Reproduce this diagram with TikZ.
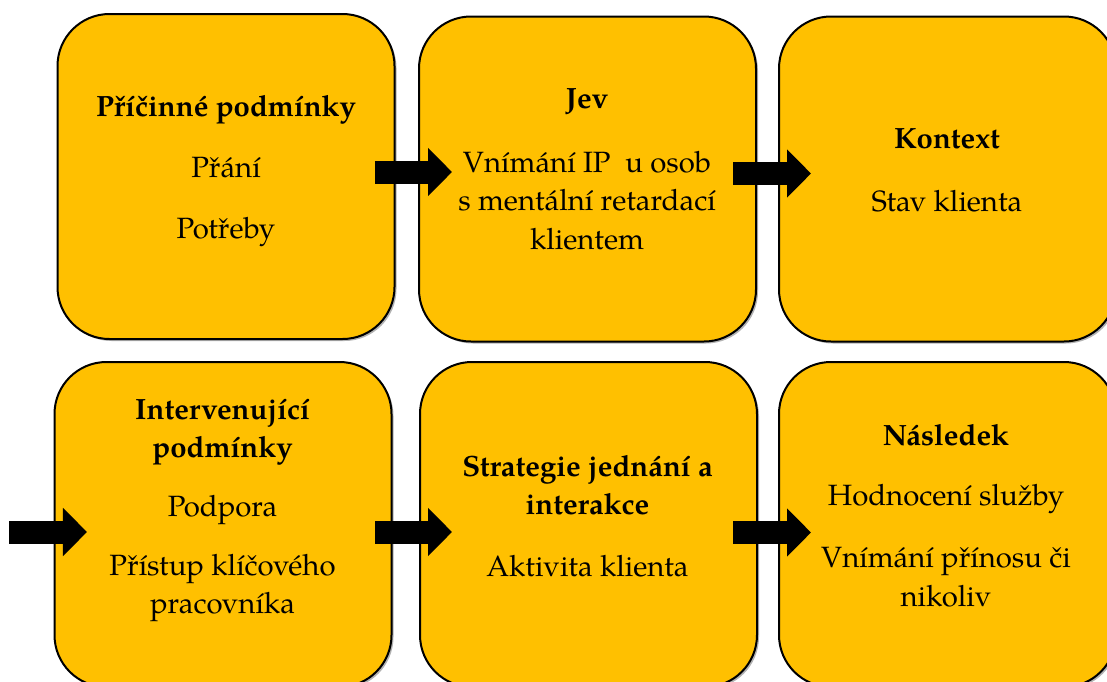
\documentclass[tikz,border=0pt]{standalone}
\usepackage{fontspec}
\setmainfont{TeX Gyre Pagella}
\usetikzlibrary{arrows.meta,shadows}
\definecolor{boxgold}{HTML}{FFC000}
\tikzset{
  box/.style={draw=black, line width=1.5pt, fill=boxgold, rounded corners=39pt,
    minimum width=252.75pt, minimum height=243.75pt, inner sep=0pt,
    drop shadow={shadow xshift=1.5pt, shadow yshift=-1.5pt, fill=black, opacity=0.3}},
  txt/.style={anchor=base, inner sep=0pt, font=\fontsize{22}{26}\selectfont},
  ttl/.style={txt, font=\fontsize{22}{26}\selectfont\bfseries},
  blockarrow/.style={line width=17.25pt, draw=black,
    -{Triangle[width=35.25pt,length=18pt]}}
}
\begin{document}
\begin{tikzpicture}[x=0.75pt,y=-0.75pt]
\useasboundingbox (0,0) rectangle (1107,682);
\clip (0,0) rectangle (1107,682);
% boxes
\node[box] (b1) at (226,176.5) {};
\node[box] (b2) at (587.5,179) {};
\node[box] (b3) at (947.5,179) {};
\node[box] (b4) at (223,524.5) {};
\node[box] (b5) at (588.5,524.5) {};
\node[box] (b6) at (947.5,524.5) {};
% arrows
\coordinate (a0) at (9,532);
\draw[blockarrow] ([xshift=-15.4pt,yshift=3.375pt]b1.east) -- ([xshift=25.5pt,yshift=5.25pt]b2.west);
\draw[blockarrow] ([xshift=-18pt,yshift=4.125pt]b2.east) -- ([xshift=24.75pt,yshift=4.125pt]b3.west);
\draw[blockarrow] (a0) -- ([xshift=25.1pt,yshift=-5.625pt]b4.west);
\draw[blockarrow] ([xshift=-13.1pt,yshift=-5.625pt]b4.east) -- ([xshift=24.75pt,yshift=-5.625pt]b5.west);
\draw[blockarrow] ([xshift=-18.75pt,yshift=-6pt]b5.east) -- ([xshift=24.75pt,yshift=-6pt]b6.west);
% texts box 1
\node[ttl] (t1a) at (226,116) {Příčinné podmínky};
\node[txt] (t1b) at (226,177) {Přání};
\node[txt] (t1c) at (226,238) {Potřeby};
% box 2
\node[ttl] (t2a) at (587,108) {Jev};
\node[txt] (t2b) at (587,172) {Vnímání IP\ \ u osob};
\node[txt] (t2c) at (587,210) {s mentální retardací};
\node[txt] (t2d) at (587,249) {klientem};
% box 3
\node[ttl] (t3a) at (947,148) {Kontext};
\node[txt] (t3b) at (947,211) {Stav klienta};
% box 4
\node[ttl] (t4a) at (222.5,419) {Intervenující};
\node[ttl] (t4b) at (222.5,457) {podmínky};
\node[txt] (t4c) at (222.5,516) {Podpora};
\node[txt] (t4d) at (222.5,575) {Přístup klíčového};
\node[txt] (t4e) at (222.5,613) {pracovníka};
% box 5
\node[ttl] (t5a) at (587.5,476) {Strategie jednání a};
\node[ttl] (t5b) at (587.5,514) {interakce};
\node[txt] (t5c) at (587.5,576) {Aktivita klienta};
% box 6
\node[ttl] (t6a) at (946,445) {Následek};
\node[txt] (t6b) at (946,505) {Hodnocení služby};
\node[txt] (t6c) at (946,567) {Vnímání přínosu či};
\node[txt] (t6d) at (946,606) {nikoliv};
\end{tikzpicture}
\end{document}
